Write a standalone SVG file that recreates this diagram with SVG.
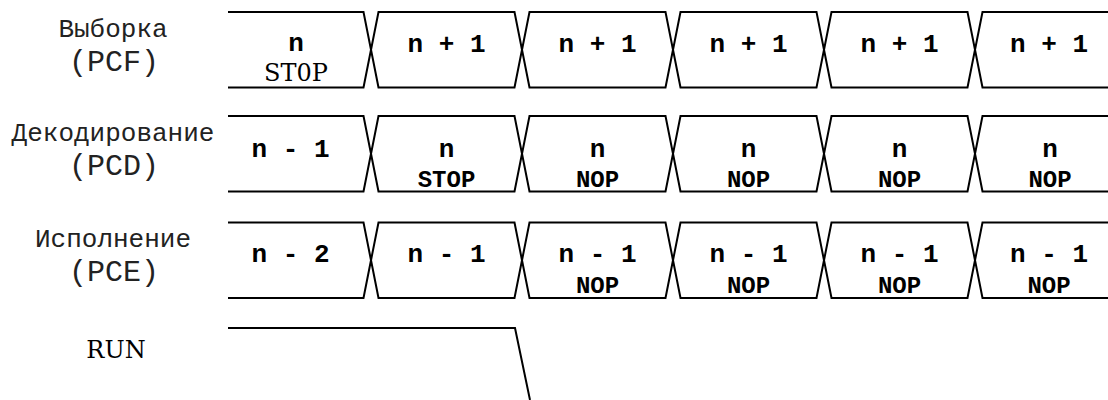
<svg xmlns="http://www.w3.org/2000/svg" xmlns:xlink="http://www.w3.org/1999/xlink" width="1108" height="400" viewBox="0 0 1108 400">
<style>
.sh{fill:none;stroke:#000;stroke-width:2;stroke-linejoin:miter}
.lbl{font-family:"Courier New","Liberation Mono",monospace;font-size:26px;fill:#222;text-anchor:middle}
.lbl2{font-family:"Courier New","Liberation Mono",monospace;font-size:30px;fill:#222;text-anchor:middle}
.v{font-family:"Courier New","Liberation Mono",monospace;font-weight:bold;font-size:26px;fill:#000;text-anchor:middle}
.op{font-family:"Courier New","Liberation Mono",monospace;font-weight:bold;font-size:24px;fill:#000;text-anchor:middle}
.ser{font-family:"DejaVu Serif",serif;font-size:24px;fill:#000;text-anchor:middle}
</style>
<defs>
<path id="c0" d="M228,0 H363.5 L371,37.75 L363.5,75.5 H228"/>
<path id="cm" d="M7.5,0 H143.5 L151,37.75 L143.5,75.5 H7.5 L0,37.75 Z"/>
<path id="c5" d="M1110,0 H982.5 L975,37.75 L982.5,75.5 H1110"/>
</defs>

<g id="labels">
<g id="label-pcf"><text class="lbl" x="113" y="37">Выборка</text><text class="lbl2" x="114" y="71">(PCF)</text></g>
<g id="label-pcd"><text class="lbl" x="113" y="141">Декодирование</text><text class="lbl2" x="114" y="175">(PCD)</text></g>
<g id="label-pce"><text class="lbl" x="113" y="247">Исполнение</text><text class="lbl2" x="114" y="281">(PCE)</text></g>
<g id="label-run"><text class="ser" x="116" y="358">RUN</text></g>
</g>

<g id="row-pcf" transform="translate(0,12)">
<g id="f0"><use href="#c0" class="sh"/><text class="v" x="296" y="39">n</text><text class="ser" x="296" y="69">ST0P</text></g>
<g id="f1"><use href="#cm" class="sh" transform="translate(371,0)"/><text class="v" x="446.5" y="40">n + 1</text></g>
<g id="f2"><use href="#cm" class="sh" transform="translate(522,0)"/><text class="v" x="597.5" y="40">n + 1</text></g>
<g id="f3"><use href="#cm" class="sh" transform="translate(673,0)"/><text class="v" x="748.5" y="40">n + 1</text></g>
<g id="f4"><use href="#cm" class="sh" transform="translate(824,0)"/><text class="v" x="899.5" y="40">n + 1</text></g>
<g id="f5"><use href="#c5" class="sh"/><text class="v" x="1049" y="40">n + 1</text></g>
</g>

<g id="row-pcd" transform="translate(0,116)">
<g id="d0"><use href="#c0" class="sh"/><text class="v" x="290.5" y="41">n - 1</text></g>
<g id="d1"><use href="#cm" class="sh" transform="translate(371,0)"/><text class="v" x="446.5" y="41">n</text><text class="op" x="446.5" y="71">STOP</text></g>
<g id="d2"><use href="#cm" class="sh" transform="translate(522,0)"/><text class="v" x="597.5" y="41">n</text><text class="op" x="597.5" y="71">NOP</text></g>
<g id="d3"><use href="#cm" class="sh" transform="translate(673,0)"/><text class="v" x="748.5" y="41">n</text><text class="op" x="748.5" y="71">NOP</text></g>
<g id="d4"><use href="#cm" class="sh" transform="translate(824,0)"/><text class="v" x="899.5" y="41">n</text><text class="op" x="899.5" y="71">NOP</text></g>
<g id="d5"><use href="#c5" class="sh"/><text class="v" x="1050" y="41">n</text><text class="op" x="1050" y="71">NOP</text></g>
</g>

<g id="row-pce" transform="translate(0,222.5)">
<g id="e0"><use href="#c0" class="sh"/><text class="v" x="290.5" y="39.5">n - 2</text></g>
<g id="e1"><use href="#cm" class="sh" transform="translate(371,0)"/><text class="v" x="446.5" y="39.5">n - 1</text></g>
<g id="e2"><use href="#cm" class="sh" transform="translate(522,0)"/><text class="v" x="597.5" y="39.5">n - 1</text><text class="op" x="597.5" y="70">NOP</text></g>
<g id="e3"><use href="#cm" class="sh" transform="translate(673,0)"/><text class="v" x="748.5" y="39.5">n - 1</text><text class="op" x="748.5" y="70">NOP</text></g>
<g id="e4"><use href="#cm" class="sh" transform="translate(824,0)"/><text class="v" x="899.5" y="39.5">n - 1</text><text class="op" x="899.5" y="70">NOP</text></g>
<g id="e5"><use href="#c5" class="sh"/><text class="v" x="1049" y="39.5">n - 1</text><text class="op" x="1049" y="70">NOP</text></g>
</g>

<g id="connectors">
<path id="run-line" class="sh" d="M228,328 H515 L530,400"/>
</g>
</svg>
